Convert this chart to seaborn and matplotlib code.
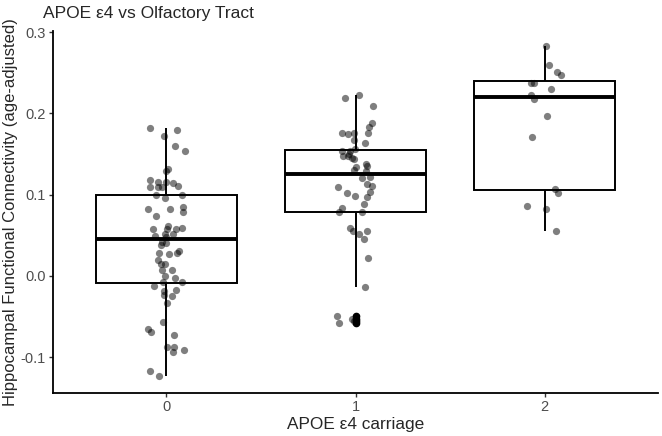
import numpy as np
import pandas as pd
import seaborn as sns
import matplotlib.pyplot as plt

# APOE e4 carriage groups
carriage = ['0', '1', '2']

# hippocampal FC (age-adjusted)
fc_0 = [0.1826, 0.1797, 0.1723, 0.1604, 0.1538, 0.1313, 0.1292, 0.1182, 0.1155,
        0.1153, 0.1149, 0.1105, 0.110, 0.110, 0.110, 0.1001,
        0.0993, 0.0956, 0.0849, 0.0829, 0.0820, 0.0788, 0.0738, 0.0615, 0.0595,
        0.0580, 0.0578, 0.0578, 0.0517, 0.0517, 0.0495, 0.0480,
        0.0422, 0.0400, 0.0381, 0.0308, 0.0280, 0.0279, 0.0267, 0.0189, 0.0150,
        0.0148, 0.0066, 0.0070, 0.0004, -0.0021, -0.0070, -0.0074,
        -0.0131, -0.0172, -0.0193, -0.0242, -0.0250, -0.0336, -0.0570, -0.0652,
        -0.0689, -0.0726, -0.0878, -0.0878, -0.0919, -0.0940, -0.1178, -0.1239]
fc_1 = [0.2228, 0.2185, 0.2092, 0.1879, 0.1833, 0.1765, 0.1764, 0.1764, 0.1744,
        0.1674, 0.1641, 0.1560, 0.1540, 0.1542, 0.1497, 0.1480, 0.1477, 0.1456,
        0.1436, 0.1375, 0.1358, 0.1338, 0.1304, 0.1292, 0.1214, 0.1210, 0.1132,
        0.1103, 0.1091, 0.1038, 0.1026, 0.0985, 0.0968, 0.0886, 0.0841, 0.0792,
        0.0780, 0.0595, 0.0558, 0.0554, 0.0521, 0.0451, 0.0218, -0.0139,
        -0.0492, -0.0533, -0.0560, -0.0582]
fc_2 = [0.2835, 0.2597, 0.2511, 0.2478, 0.2379, 0.2372, 0.2302, 0.2228, 0.2178,
        0.1969, 0.1707, 0.1067, 0.1018, 0.0866, 0.0825, 0.0554]

y_ticks = [-0.1, 0.0, 0.1, 0.2, 0.3]
y_ticklabels = ['-0.1', '0.0', '0.1', '0.2', '0.3']

df = pd.DataFrame({
    'carriage': [carriage[0]] * len(fc_0) + [carriage[1]] * len(fc_1) + [carriage[2]] * len(fc_2),
    'fc': fc_0 + fc_1 + fc_2,
})

sns.set_style('ticks')
plt.rcParams['font.family'] = ['Liberation Sans', 'DejaVu Sans']
plt.rcParams['axes.unicode_minus'] = False

fig, ax = plt.subplots(figsize=(6.62, 4.36), dpi=100)
fig.subplots_adjust(left=53 / 662, right=658 / 662, top=1 - 30.6 / 436, bottom=1 - 393 / 436)

sns.boxplot(data=df, x='carriage', y='fc', order=carriage, width=0.75,
            color='white', linecolor='black', linewidth=1.4, showcaps=False,
            medianprops=dict(linewidth=2.8, color='black'),
            flierprops=dict(marker='o', markerfacecolor='black', markeredgecolor='black',
                            markersize=4.5),
            ax=ax)
np.random.seed(7)
sns.stripplot(data=df, x='carriage', y='fc', order=carriage, jitter=0.1,
              color='black', alpha=0.5, size=5.2, linewidth=0, zorder=3, ax=ax)

ax.set_xlim(-0.6, 2.6)
ax.set_ylim(-0.1443, 0.302)
ax.set_yticks(y_ticks)
ax.set_yticklabels(y_ticklabels)
ax.tick_params(axis='both', length=3, width=1, color='#333333', labelcolor='#4d4d4d', labelsize=10.5, pad=2)
for side in ['top', 'right']:
    ax.spines[side].set_visible(False)
for side in ['left', 'bottom']:
    ax.spines[side].set_linewidth(1.3)
    ax.spines[side].set_color('black')

ax.set_xlabel('APOE ε4 carriage', fontsize=12.4, labelpad=2)
ax.set_ylabel('Hippocampal Functional Connectivity (age-adjusted)', fontsize=12, labelpad=2)
fig.text(43 / 662, 1 - 18 / 436, 'APOE ε4 vs Olfactory Tract', fontsize=12.5, va='baseline', ha='left')

fig.savefig('out.png', dpi=100)
